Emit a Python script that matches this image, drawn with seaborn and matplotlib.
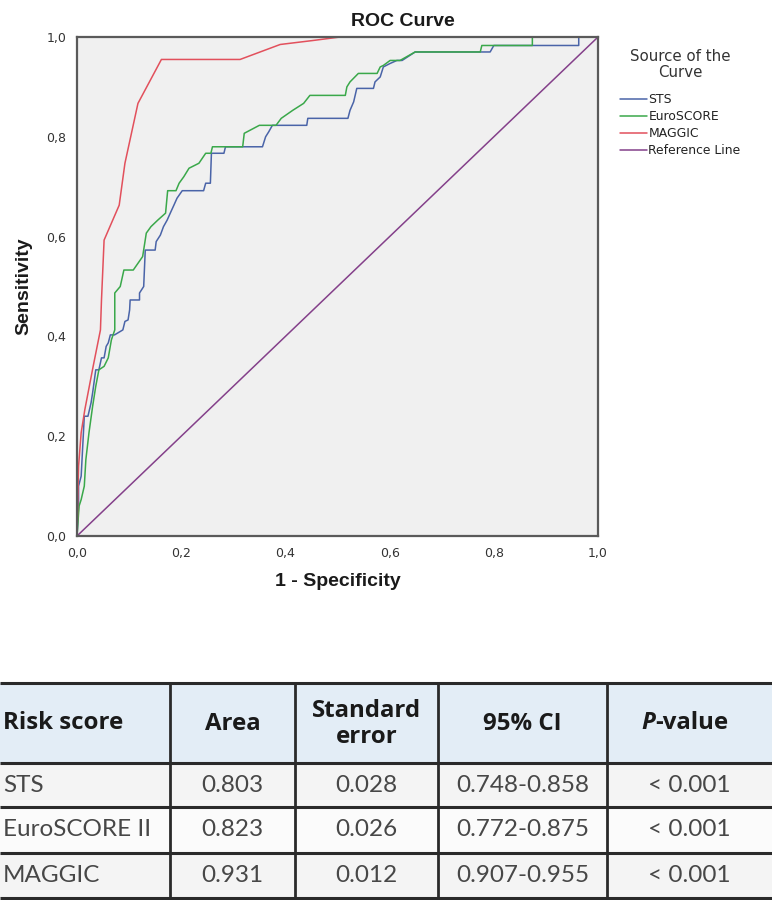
import numpy as np
import pandas as pd
import matplotlib
matplotlib.use("Agg")
import matplotlib.pyplot as plt
import seaborn as sns
from matplotlib.ticker import FuncFormatter
from matplotlib.patches import Rectangle

# ---------------- data ----------------
sts_fpr = [0.000, 0.003, 0.003, 0.008, 0.011, 0.014, 0.021, 0.027, 0.030, 0.036, 0.042,
           0.047, 0.052, 0.056, 0.060, 0.064, 0.072, 0.088, 0.092, 0.098, 0.101, 0.102,
           0.120, 0.120, 0.128, 0.131, 0.150, 0.152, 0.160, 0.166, 0.173, 0.179, 0.186,
           0.192, 0.202, 0.243, 0.247, 0.256, 0.258, 0.282, 0.285, 0.356, 0.362, 0.368,
           0.375, 0.441, 0.443, 0.520, 0.524, 0.531, 0.537, 0.569, 0.572, 0.582, 0.588,
           0.601, 0.614, 0.624, 0.649, 0.793, 0.800, 0.963, 0.963, 1.000]
sts_tpr = [0.000, 0.060, 0.100, 0.120, 0.180, 0.240, 0.240, 0.267, 0.287, 0.333, 0.333,
           0.357, 0.357, 0.380, 0.387, 0.403, 0.403, 0.413, 0.430, 0.433, 0.453, 0.473,
           0.473, 0.487, 0.500, 0.573, 0.573, 0.590, 0.603, 0.620, 0.633, 0.647, 0.663,
           0.677, 0.692, 0.692, 0.707, 0.707, 0.767, 0.767, 0.780, 0.780, 0.800, 0.810,
           0.823, 0.823, 0.837, 0.837, 0.853, 0.870, 0.897, 0.897, 0.910, 0.920, 0.940,
           0.947, 0.953, 0.953, 0.970, 0.970, 0.983, 0.983, 1.000, 1.000]

euro_fpr = [0.000, 0.004, 0.008, 0.014, 0.017, 0.023, 0.030, 0.036, 0.042, 0.052, 0.060,
            0.066, 0.0725, 0.0725, 0.083, 0.090, 0.108, 0.126, 0.133, 0.142, 0.155, 0.170,
            0.174, 0.190, 0.196, 0.205, 0.215, 0.234, 0.247, 0.257, 0.260, 0.318, 0.321,
            0.350, 0.382, 0.392, 0.414, 0.435, 0.447, 0.515, 0.518, 0.524, 0.540, 0.576,
            0.582, 0.588, 0.601, 0.620, 0.649, 0.774, 0.777, 0.874, 0.874, 1.000]
euro_tpr = [0.000, 0.060, 0.073, 0.100, 0.153, 0.207, 0.260, 0.300, 0.333, 0.340, 0.357,
            0.393, 0.413, 0.487, 0.500, 0.533, 0.533, 0.560, 0.607, 0.620, 0.633, 0.647,
            0.692, 0.692, 0.707, 0.720, 0.737, 0.747, 0.767, 0.767, 0.780, 0.780, 0.807,
            0.823, 0.823, 0.837, 0.853, 0.867, 0.883, 0.883, 0.900, 0.910, 0.927, 0.927,
            0.940, 0.943, 0.953, 0.953, 0.970, 0.970, 0.983, 0.983, 1.000, 1.000]

maggic_fpr = [0.000, 0.003, 0.008, 0.015, 0.031, 0.045, 0.047, 0.052, 0.081, 0.092,
              0.117, 0.162, 0.313, 0.390, 0.453, 0.505, 1.000]
maggic_tpr = [0.000, 0.140, 0.207, 0.253, 0.340, 0.413, 0.473, 0.593, 0.663, 0.747,
              0.867, 0.955, 0.955, 0.985, 0.993, 1.000, 1.000]

ref_fpr = [0.0, 1.0]
ref_tpr = [0.0, 1.0]

curve_names = ["STS", "EuroSCORE", "MAGGIC", "Reference Line"]
curve_colors = ["#4a64a8", "#3aa84a", "#e2505c", "#84408a"]

xticks = [0.0, 0.2, 0.4, 0.6, 0.8, 1.0]
yticks = [0.0, 0.2, 0.4, 0.6, 0.8, 1.0]

table_header = ["Risk score", "Area", "Standard\nerror", "95% CI", "-value"]
table_scores = ["STS", "EuroSCORE II", "MAGGIC"]
table_area = ["0.803", "0.823", "0.931"]
table_se = ["0.028", "0.026", "0.012"]
table_ci = ["0.748-0.858", "0.772-0.875", "0.907-0.955"]
table_p = ["< 0.001", "< 0.001", "< 0.001"]

# ---------------- long-form frame ----------------
frames = []
for name, fx, ty in zip(curve_names,
                        [sts_fpr, euro_fpr, maggic_fpr, ref_fpr],
                        [sts_tpr, euro_tpr, maggic_tpr, ref_tpr]):
    frames.append(pd.DataFrame({"fpr": fx, "tpr": ty, "src": name}))
df = pd.concat(frames, ignore_index=True)

sns.set_style("white")
plt.rcParams["font.family"] = ["Liberation Sans", "DejaVu Sans"]

W, H = 772, 900
fig = plt.figure(figsize=(W / 100, H / 100), dpi=100)

# axes box in pixels: x 77..598, y 37..536
ax = fig.add_axes([77 / W, 1 - 536 / H, (598 - 77) / W, (536 - 37) / H])
ax.set_facecolor("#f0f0f0")

sns.lineplot(data=df, x="fpr", y="tpr", hue="src", hue_order=curve_names,
             palette=dict(zip(curve_names, curve_colors)), sort=False,
             estimator=None, units="src", linewidth=1.1, ax=ax, legend=True)

ax.set_xlim(0, 1)
ax.set_ylim(0, 1)
ax.set_xticks(xticks)
ax.set_yticks(yticks)
fmt = FuncFormatter(lambda v, p: f"{v:.1f}".replace(".", ","))
ax.xaxis.set_major_formatter(fmt)
ax.yaxis.set_major_formatter(fmt)
ax.tick_params(axis="both", direction="out", length=6.5, width=1.4, color="#333333",
               labelsize=9, labelcolor="#333333", pad=1.2)
for lab in ax.get_xticklabels() + ax.get_yticklabels():
    lab.set_family(["DejaVu Sans"])
for s in ax.spines.values():
    s.set_color("#5a5a5a")
    s.set_linewidth(1.6)

ax.set_title("ROC Curve", fontsize=14, fontweight="bold", pad=8, color="#1a1a1a")
ax.title.set_x((403 - 77) / 521)
ax.set_xlabel("1 - Specificity", fontsize=14, fontweight="bold", color="#1a1a1a")
ax.set_ylabel("Sensitivity", fontsize=14, fontweight="bold", color="#1a1a1a")
ax.xaxis.set_label_coords(0.5, -(573 - 536) / 499)
ax.yaxis.set_label_coords(-(77 - 32) / 521, 0.5)

handles, labels = ax.get_legend_handles_labels()
leg = ax.legend(handles, labels, title="Source of the\nCurve", frameon=False,
                loc="upper left", bbox_to_anchor=(620 / W, 1 - 49 / H),
                bbox_transform=fig.transFigure,
                prop={"family": ["DejaVu Sans"], "size": 8.9},
                title_fontproperties={"family": ["DejaVu Sans"], "size": 10.8},
                handlelength=2.2, handletextpad=0.1, labelspacing=0.31,
                borderaxespad=0, borderpad=0, alignment="center")
for t in leg.get_texts():
    t.set_color("#222222")
leg.get_title().set_color("#333333")
leg.get_title().set_multialignment("center")
leg.get_title().set_linespacing(1.05)
leg._legend_box.sep = 10
for line in leg.get_lines():
    line.set_linewidth(1.1)

# ---------------- table ----------------
tax = fig.add_axes([0, 0, 1, 1], zorder=-1)
tax.set_xlim(0, W)
tax.set_ylim(H, 0)
tax.axis("off")

col_edges = [0, 170, 295, 438, 607, W]
row_edges = [683, 763, 807, 853, 898]
row_colors = ["#e3edf6", "#f4f4f4", "#fbfbfb", "#f4f4f4"]
for i in range(4):
    tax.add_patch(Rectangle((0, row_edges[i]), W, row_edges[i + 1] - row_edges[i],
                            facecolor=row_colors[i], edgecolor="none"))
line_c = "#2a2a2a"
for y in row_edges:
    tax.plot([0, W], [y, y], color=line_c, lw=2.2, solid_capstyle="butt")
for x in col_edges[1:-1]:
    tax.plot([x, x], [row_edges[0], row_edges[-1]], color=line_c, lw=2.0,
             solid_capstyle="butt")

hfont = ["Open Sans", "DejaVu Sans"]
bfont = ["Lato", "DejaVu Sans"]
hsize = 17.3
bsize = 17.5
hy = (row_edges[0] + row_edges[1]) / 2
centers = [(col_edges[i] + col_edges[i + 1]) / 2 for i in range(5)]

tax.text(3, hy, table_header[0], ha="left", va="center", fontsize=hsize,
         fontweight="bold", family=hfont, color="#1a1a1a")
for j in (1, 2, 3):
    tax.text(centers[j], hy + 1, table_header[j], ha="center", va="center",
             fontsize=hsize, fontweight="bold", family=hfont, color="#1a1a1a",
             linespacing=1.1)
pt = tax.text(641, hy, "P", ha="left", va="center", fontsize=hsize,
              fontweight="bold", fontstyle="italic", family=hfont, color="#1a1a1a")
tax.annotate(table_header[4], xy=(1, 0), xycoords=pt, ha="left", va="bottom",
             fontsize=hsize, fontweight="bold", family=hfont, color="#1a1a1a")

for i in range(3):
    cy = (row_edges[i + 1] + row_edges[i + 2]) / 2
    tax.text(3, cy, table_scores[i], ha="left", va="center", fontsize=bsize,
             fontweight="normal", family=bfont, color="#474747")
    for j, col in zip((1, 2, 3, 4), (table_area, table_se, table_ci, table_p)):
        tax.text(centers[j], cy, col[i], ha="center", va="center", fontsize=bsize,
                 fontweight="normal", family=bfont, color="#474747")

fig.savefig("out.png", dpi=100)
